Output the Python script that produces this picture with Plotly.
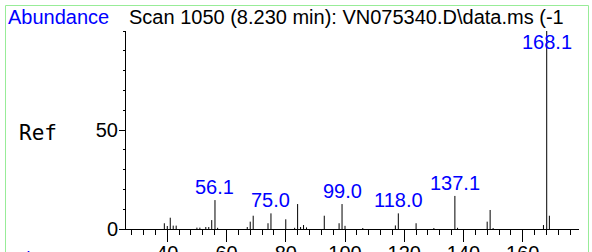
import plotly.graph_objects as go

# ---- data ----
mz = [39, 40, 41, 42, 43, 50, 51, 53, 54, 55, 56.1, 57, 67, 68, 69, 74, 75.0, 80,
      83, 84, 85, 86, 87, 93, 98, 99.0, 100, 106, 117, 118.0, 124, 130, 137.1, 138,
      148, 149, 150, 167, 168.1, 169]
abundance = [2.9, 1.5, 5.7, 1.7, 1.7, 0.7, 0.7, 1.0, 1.0, 4.5, 14.6, 0.6, 1.0, 3.7, 6.7, 2.9, 7.9, 4.9,
             0.6, 12.6, 1.0, 2.0, 0.8, 6.7, 2.9, 12.6, 1.6, 0.5, 1.8, 7.9, 2.9, 0.5, 16.7, 0.6,
             3.7, 9.6, 0.5, 2.0, 100, 6.7]
label_mz = [56.1, 75.0, 99.0, 118.0, 137.1, 168.1]
label_text = ["56.1", "75.0", "99.0", "118.0", "137.1", "168.1"]
y_tick_vals = [0, 50]
title_text = "Scan 1050 (8.230 min): VN075340.D\\data.ms (-1"

# ---- geometry ----
W, H = 592, 252
L, T, PW, PH = 126, 31, 453, 198
R = W - L - PW
B = H - T - PH


def px_x(px):
    return (px - L) / PW


def px_y(py):
    return (T + PH - py) / PH


SANS = "Liberation Sans, Arial, sans-serif"
BLUE = "#0000ff"

xs, ys = [], []
for m, v in zip(mz, abundance):
    xs += [m, m, None]
    ys += [0, v, None]

fig = go.Figure()
fig.add_trace(go.Scatter(x=xs, y=ys, mode="lines",
                         line=dict(color="black", width=1),
                         hoverinfo="skip", showlegend=False))

lookup = dict(zip(mz, abundance))
label_cap = 87.9
for m, t in zip(label_mz, label_text):
    fig.add_annotation(x=m, y=min(lookup[m], label_cap), xref="x", yref="y",
                       text=t, showarrow=False, xanchor="center", yanchor="bottom",
                       font=dict(family=SANS, size=20, color=BLUE))

fig.add_annotation(x=px_x(6), y=px_y(4), xref="paper", yref="paper",
                   text="Abundance", showarrow=False, xanchor="left", yanchor="top",
                   font=dict(family=SANS, size=20, color=BLUE))
fig.add_annotation(x=px_x(127), y=px_y(4), xref="paper", yref="paper",
                   text=title_text, showarrow=False, xanchor="left", yanchor="top",
                   font=dict(family=SANS, size=20, color="black"))
fig.add_annotation(x=px_x(17), y=px_y(119), xref="paper", yref="paper",
                   text="Ref", showarrow=False, xanchor="left", yanchor="top",
                   font=dict(family="DejaVu Sans Mono, monospace", size=21, color="black"))
fig.add_annotation(x=px_x(5), y=px_y(246), xref="paper", yref="paper",
                   text="m/z-->", showarrow=False, xanchor="left", yanchor="top",
                   font=dict(family=SANS, size=20, color=BLUE))

fig.add_shape(type="rect", xref="paper", yref="paper",
              x0=px_x(5.5), x1=px_x(588.5), y0=px_y(300), y1=px_y(5.5),
              line=dict(color="#98ec98", width=1), layer="below")

fig.update_layout(
    width=W, height=H,
    margin=dict(l=L, r=R, t=T, b=B, pad=0, autoexpand=False),
    paper_bgcolor="white", plot_bgcolor="white",
    showlegend=False,
    xaxis=dict(range=[26.06, 179.0], showline=True, linecolor="black", linewidth=1,
               automargin=False,
               ticks="outside", ticklen=12, tickwidth=1, tickcolor="black",
               tick0=0, dtick=20, showgrid=False, zeroline=False,
               ticklabelstandoff=-6,
               tickfont=dict(family=SANS, size=20, color="black"),
               minor=dict(ticks="outside", ticklen=5, tickwidth=1, tickcolor="black",
                          tick0=0, dtick=4, showgrid=False)),
    yaxis=dict(range=[0, 100], showline=True, linecolor="black", linewidth=1,
               automargin=False,
               ticks="outside", ticklen=6, tickwidth=1, tickcolor="black",
               tickmode="array", tickvals=y_tick_vals, showgrid=False, zeroline=False,
               ticklabelstandoff=-3,
               tickfont=dict(family=SANS, size=20, color="black"),
               minor=dict(ticks="outside", ticklen=2, tickwidth=1, tickcolor="black",
                          tick0=0, dtick=10, showgrid=False)),
)

fig.write_html("out.html", config={"displayModeBar": False},
               post_script="document.body.style.margin='0';document.body.style.overflow='hidden';")
